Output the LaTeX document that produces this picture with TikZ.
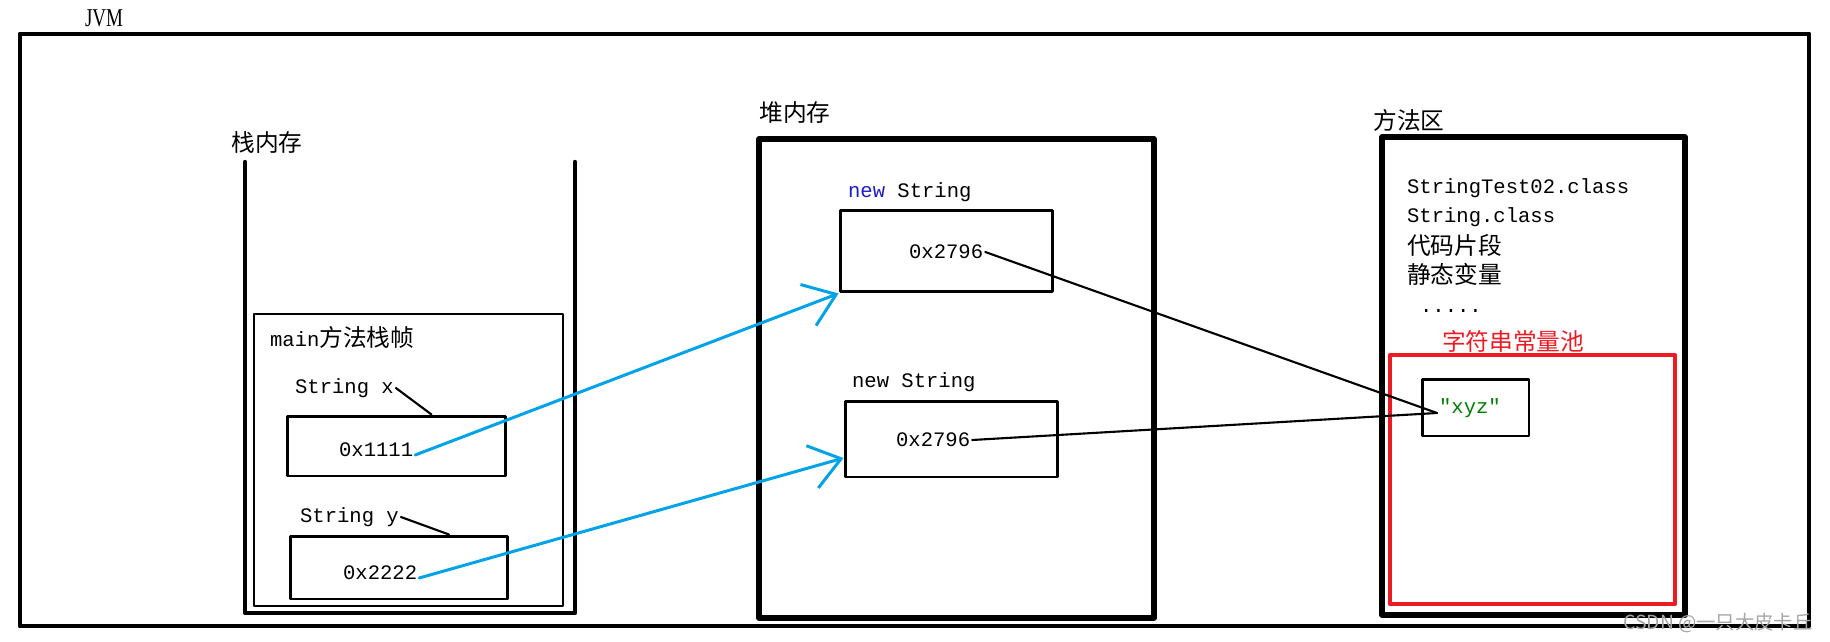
\documentclass[tikz,border=0pt]{standalone}
\usepackage{fontspec}
\setmainfont{Liberation Serif}
\setmonofont{Liberation Mono}
\newfontfamily\cjk{Noto Sans CJK SC}
\usetikzlibrary{arrows.meta}
\definecolor{paintblue}{HTML}{00A2E8}
\definecolor{paintred}{HTML}{ED1C24}
\definecolor{kwblue}{HTML}{1C1CC8}
\definecolor{strgreen}{HTML}{008000}
\newcommand{\zh}[1]{{\cjk\fontsize{13.5pt}{16pt}\selectfont #1}}

\begin{document}
\begin{tikzpicture}[x=0.02cm,y=-0.02cm,line cap=round,line join=round,
        code/.style={font=\ttfamily\fontsize{11.7pt}{14pt}\selectfont, inner sep=1pt},
        cell/.style={draw, line width=1.7pt, inner sep=0pt},
        ref/.style={paintblue, line width=1.7pt, -{Straight Barb[length=17pt,width=25pt]}},
        link/.style={line width=1.2pt}]
            \useasboundingbox (0,0) rectangle (1830,642);

            \node (jvm) at (104,18) {\fontsize{14.6pt}{16pt}\selectfont\scalebox{0.74}[1]{JVM}};
            \draw[line width=2.8pt] (20,34) rectangle (1809,626);

            % stack
            \node (stacklbl) at (267,143) {\zh{栈内存}};
            \draw[line width=2.5pt] (245,162) -- (245,613) -- (575,613) -- (575,162);
            \draw[line width=1.7pt] (254,314) rectangle (563,606);
            \node[code, anchor=west] (frame) at (268,337) {main\zh{方法栈帧}};

            \node[code, anchor=west] (lx) at (293,388) {String x};
            \node[cell, minimum width=4.38cm, minimum height=1.2cm] (bx) at (396.5,446) {};
            \node[code, anchor=west] (v1) at (337,450) {0x1111};
            \node[code, anchor=west] (ly) at (298,517) {String y};
            \node[cell, minimum width=4.36cm, minimum height=1.26cm] (by) at (399,567.5) {};
            \node[code, anchor=west] (v2) at (341,573) {0x2222};
            \draw[link] (lx.east) -- ([xshift=0.7cm]bx.north);
            \draw[link] (ly.east) -- ([xshift=1cm]by.north);

            % heap
            \node (heaplbl) at (795,113) {\zh{堆内存}};
            \draw[line width=3pt] (759,139) rectangle (1154,618);
            \node[code, anchor=west] (n1) at (846,192) {\textcolor{kwblue}{new} String};
            \node[cell, minimum width=4.26cm, minimum height=1.64cm] (h1) at (946.5,251) {};
            \node[code, anchor=west] (a1) at (907,252) {0x2796};
            \node[code, anchor=west] (n2) at (850,382) {new String};
            \node[cell, minimum width=4.26cm, minimum height=1.52cm] (h2) at (951.5,439) {};
            \node[code, anchor=west] (a2) at (894,440) {0x2796};

            % method area
            \node (methodlbl) at (1409,120) {\zh{方法区}};
            \draw[line width=3pt] (1382,137) rectangle (1685,615);
            \node[code, anchor=west] (c1) at (1405,188) {StringTest02.class};
            \node[code, anchor=west] (c2) at (1405,217) {String.class};
            \node[anchor=west, inner sep=1pt] (c3) at (1405,245) {\zh{代码片段}};
            \node[anchor=west, inner sep=1pt] (c4) at (1405,274) {\zh{静态变量}};
            \node[code, anchor=base west] (c5) at (1418,312) {.....};
            \node[anchor=west, inner sep=1pt, paintred] (poollbl) at (1440,341) {\zh{字符串常量池}};
            \draw[paintred, line width=2.5pt] (1390,355) rectangle (1675,604);
            \node[cell, minimum width=2.14cm, minimum height=1.14cm] (sbox) at (1475.5,407.5) {};
            \node[code, anchor=west, strgreen] (s) at (1437,408) {″xyz″};

            \draw[ref] ([yshift=-0.1cm]v1.east) -- (h1.south west);
            \draw[ref] ([yshift=-0.1cm]v2.east) -- (h2.190);
            \draw[link] (a1.east) -- ([yshift=-0.1cm]s.west);
            \draw[link] (a2.east) -- ([yshift=-0.1cm]s.west);

            \node[gray!70, font=\cjk\fontsize{11pt}{13pt}\selectfont] (mark) at (1718,623) {CSDN @一只大皮卡丘};
        \end{tikzpicture}
\end{document}
